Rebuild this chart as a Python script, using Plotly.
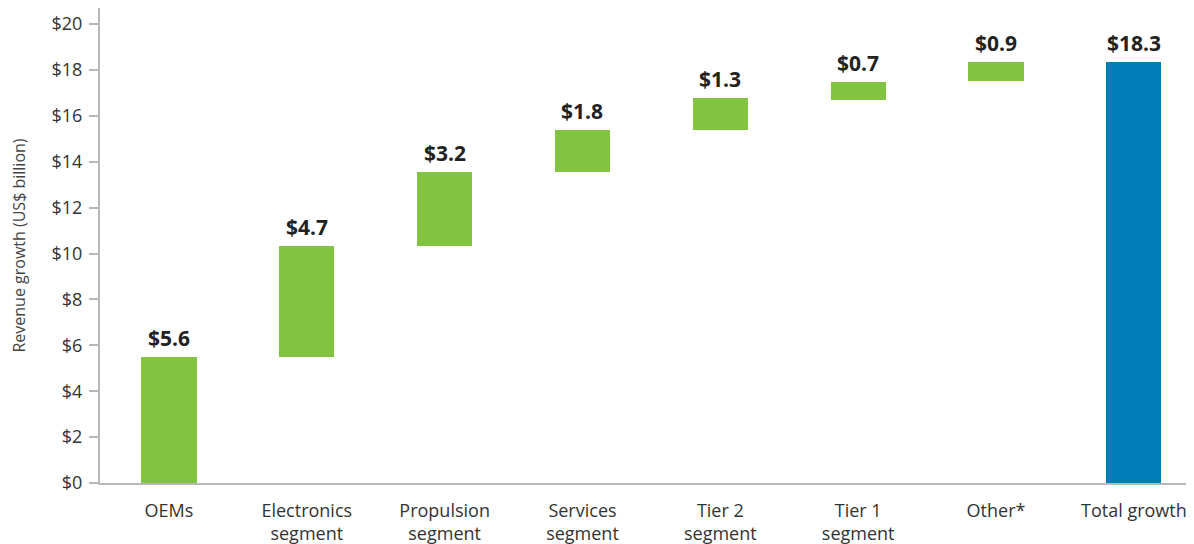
import plotly.graph_objects as go

categories = ["OEMs", "Electronics<br>segment", "Propulsion<br>segment", "Services<br>segment",
              "Tier 2<br>segment", "Tier 1<br>segment", "Other*", "Total growth"]
labels = ["$5.6", "$4.7", "$3.2", "$1.8", "$1.3", "$0.7", "$0.9", "$18.3"]
bar_bottoms = [0.0, 5.49, 10.33, 13.56, 15.39, 16.69, 17.52, 0.0]
bar_tops = [5.49, 10.33, 13.55, 15.38, 16.78, 17.47, 18.34, 18.34]
colors = ["#82c341"] * 7 + ["#007cb7"]

heights = [t - b for t, b in zip(bar_tops, bar_bottoms)]
xs = list(range(len(categories)))

fig = go.Figure()
fig.add_trace(go.Bar(
    x=xs, y=heights, base=bar_bottoms, width=0.4,
    marker=dict(color=colors, line=dict(width=0)),
    hoverinfo="skip",
))

for x, top, lab in zip(xs, bar_tops, labels):
    fig.add_annotation(x=x, y=top, text="<b>%s</b>" % lab, showarrow=False,
                       yanchor="bottom", yshift=3,
                       font=dict(family="Open Sans", size=21, color="#222222"))

fig.update_layout(
    width=1186, height=536,
    margin=dict(l=92, r=0, t=0, b=61),
    paper_bgcolor="white", plot_bgcolor="white",
    showlegend=False,
    font=dict(family="Open Sans", size=18, color="#333333"),
    bargap=0,
)
fig.update_xaxes(
    tickmode="array", tickvals=xs, ticktext=categories,
    range=[-0.5, 7.436], showgrid=False, zeroline=False,
    showline=True, linecolor="#b8b8b8", linewidth=2,
    ticks="", ticklabelstandoff=10,
    tickfont=dict(family="Open Sans", size=18, color="#333333"),
)
fig.update_yaxes(
    range=[0, 20.70], tickmode="array", tickvals=list(range(0, 21, 2)),
    ticktext=["$%d" % v for v in range(0, 21, 2)],
    showgrid=False, zeroline=False,
    showline=True, linecolor="#b8b8b8", linewidth=2,
    ticks="outside", ticklen=9, tickcolor="#b8b8b8", tickwidth=2,
    ticklabelstandoff=3,
    tickfont=dict(family="Open Sans", size=18, color="#333333"),
    title=dict(text="Revenue growth (US$ billion)", standoff=22,
               font=dict(family="Open Sans", size=16, color="#444444")),
)

fig.write_html("out.html")
